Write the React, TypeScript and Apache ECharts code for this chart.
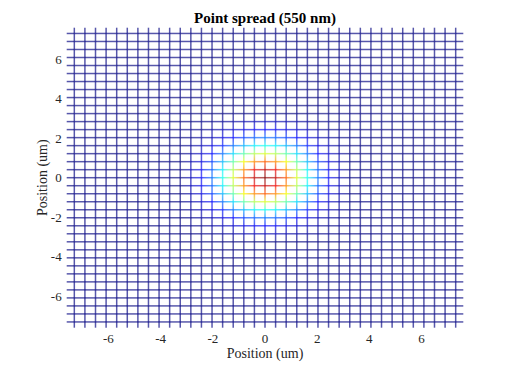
import React, { useEffect, useRef } from 'react';
import * as echarts from 'echarts';

const TITLE = 'Point spread (550 nm)';
const X_NAME = 'Position (um)';
const Y_NAME = 'Position (um)';
const TICK_VALUES = [-6, -4, -2, 0, 2, 4, 6];
const AXIS_MIN = -7.6;
const AXIS_MAX = 7.6;
// mesh sample positions: (k - SAMPLE_HALF) * SAMPLE_STEP
const SAMPLE_STEP = 0.406;
const SAMPLE_HALF = 18;
// normalised PSF values on the central 15x15 samples (row 0 = top)
const CORE_HALF = 7;
const PSF_CORE = [
  [0.00, 0.01, 0.01, 0.02, 0.03, 0.04, 0.05, 0.05, 0.05, 0.04, 0.03, 0.02, 0.01, 0.01, 0.00],
  [0.01, 0.01, 0.03, 0.05, 0.07, 0.09, 0.11, 0.12, 0.11, 0.09, 0.07, 0.05, 0.03, 0.01, 0.01],
  [0.01, 0.03, 0.05, 0.09, 0.13, 0.18, 0.21, 0.23, 0.21, 0.18, 0.13, 0.09, 0.05, 0.03, 0.01],
  [0.02, 0.05, 0.09, 0.15, 0.23, 0.30, 0.36, 0.39, 0.36, 0.30, 0.23, 0.15, 0.09, 0.05, 0.02],
  [0.03, 0.07, 0.13, 0.23, 0.34, 0.46, 0.55, 0.59, 0.55, 0.46, 0.34, 0.23, 0.13, 0.07, 0.03],
  [0.04, 0.09, 0.18, 0.30, 0.46, 0.62, 0.74, 0.79, 0.74, 0.62, 0.46, 0.30, 0.18, 0.09, 0.04],
  [0.05, 0.11, 0.21, 0.36, 0.55, 0.74, 0.89, 0.94, 0.89, 0.74, 0.55, 0.36, 0.21, 0.11, 0.05],
  [0.05, 0.12, 0.23, 0.39, 0.59, 0.79, 0.94, 1.00, 0.94, 0.79, 0.59, 0.39, 0.23, 0.12, 0.05],
  [0.05, 0.11, 0.21, 0.36, 0.55, 0.74, 0.89, 0.94, 0.89, 0.74, 0.55, 0.36, 0.21, 0.11, 0.05],
  [0.04, 0.09, 0.18, 0.30, 0.46, 0.62, 0.74, 0.79, 0.74, 0.62, 0.46, 0.30, 0.18, 0.09, 0.04],
  [0.03, 0.07, 0.13, 0.23, 0.34, 0.46, 0.55, 0.59, 0.55, 0.46, 0.34, 0.23, 0.13, 0.07, 0.03],
  [0.02, 0.05, 0.09, 0.15, 0.23, 0.30, 0.36, 0.39, 0.36, 0.30, 0.23, 0.15, 0.09, 0.05, 0.02],
  [0.01, 0.03, 0.05, 0.09, 0.13, 0.18, 0.21, 0.23, 0.21, 0.18, 0.13, 0.09, 0.05, 0.03, 0.01],
  [0.01, 0.01, 0.03, 0.05, 0.07, 0.09, 0.11, 0.12, 0.11, 0.09, 0.07, 0.05, 0.03, 0.01, 0.01],
  [0.00, 0.01, 0.01, 0.02, 0.03, 0.04, 0.05, 0.05, 0.05, 0.04, 0.03, 0.02, 0.01, 0.01, 0.00],
];

const LINE_ALPHA = 0.66;
const FONT = '"Liberation Serif", "DejaVu Serif", serif';

function clamp(v: number) {
  return Math.max(0, Math.min(1, v));
}
function jet(v: number): string {
  const t = clamp(v);
  const r = clamp(Math.min(4 * t - 1.5, -4 * t + 4.5));
  const g = clamp(Math.min(4 * t - 0.5, -4 * t + 3.5));
  const b = clamp(Math.min(4 * t + 0.5, -4 * t + 2.5));
  return `rgba(${Math.round(r * 255)},${Math.round(g * 255)},${Math.round(b * 255)},${LINE_ALPHA})`;
}

function buildSegments() {
  const n = 2 * SAMPLE_HALF + 1;
  const pos = Array.from({ length: n }, (_, k) => (k - SAMPLE_HALF) * SAMPLE_STEP);
  const val = (ix: number, iy: number) => {
    const cx = ix - SAMPLE_HALF + CORE_HALF;
    const cy = CORE_HALF - (iy - SAMPLE_HALF);
    if (cx < 0 || cy < 0 || cx >= PSF_CORE[0].length || cy >= PSF_CORE.length) return 0;
    return PSF_CORE[cy][cx];
  };
  const segs: number[][] = [];
  for (let iy = 0; iy < n; iy++) {
    const y = pos[iy];
    segs.push([AXIS_MIN, y, pos[0], y, val(0, iy), val(0, iy)]);
    for (let ix = 0; ix < n - 1; ix++) {
      segs.push([pos[ix], y, pos[ix + 1], y, val(ix, iy), val(ix + 1, iy)]);
    }
    segs.push([pos[n - 1], y, AXIS_MAX, y, val(n - 1, iy), val(n - 1, iy)]);
  }
  for (let ix = 0; ix < n; ix++) {
    const x = pos[ix];
    segs.push([x, AXIS_MIN, x, pos[0], val(ix, 0), val(ix, 0)]);
    for (let iy = 0; iy < n - 1; iy++) {
      segs.push([x, pos[iy], x, pos[iy + 1], val(ix, iy), val(ix, iy + 1)]);
    }
    segs.push([x, pos[n - 1], x, AXIS_MAX, val(ix, n - 1), val(ix, n - 1)]);
  }
  return segs;
}

export default function App() {
  const ref = useRef<HTMLDivElement>(null);
  useEffect(() => {
    if (!ref.current) return;
    const chart = echarts.init(ref.current, null, { renderer: 'svg' });
    const segs = buildSegments();
    chart.setOption({
      animation: false,
      backgroundColor: '#ffffff',
      graphic: [
        {
          type: 'text',
          x: 265,
          y: 18,
          style: {
            text: TITLE,
            font: `bold 15px ${FONT}`,
            fill: '#000000',
            align: 'center',
            verticalAlign: 'middle',
          },
        },
      ],
      grid: { left: 66.7, right: 48.7, top: 27.7, bottom: 41.3, containLabel: false },
      xAxis: {
        type: 'value',
        min: AXIS_MIN,
        max: AXIS_MAX,
        name: X_NAME,
        nameLocation: 'middle',
        nameGap: 19,
        nameMoveOverlap: false,
        nameTextStyle: { fontFamily: FONT, fontSize: 14, color: '#262626' },
        axisLine: { show: false },
        axisTick: { show: false },
        splitLine: { show: false },
        axisLabel: {
          customValues: TICK_VALUES,
          margin: 4,
          fontFamily: FONT,
          fontSize: 13,
          color: '#262626',
        },
      },
      yAxis: {
        type: 'value',
        min: AXIS_MIN,
        max: AXIS_MAX,
        name: Y_NAME,
        nameLocation: 'middle',
        nameGap: 17,
        nameRotate: 90,
        nameMoveOverlap: false,
        nameTextStyle: { fontFamily: FONT, fontSize: 14, color: '#262626' },
        axisLine: { show: false },
        axisTick: { show: false },
        splitLine: { show: false },
        axisLabel: {
          customValues: TICK_VALUES,
          margin: 5,
          fontFamily: FONT,
          fontSize: 13,
          color: '#262626',
        },
      },
      series: [
        {
          type: 'custom',
          coordinateSystem: 'cartesian2d',
          data: segs,
          encode: { x: [0, 2], y: [1, 3] },
          silent: true,
          renderItem: (params: any, api: any) => {
            const p1 = api.coord([api.value(0), api.value(1)]);
            const p2 = api.coord([api.value(2), api.value(3)]);
            const c1 = jet(api.value(4));
            const c2 = jet(api.value(5));
            const stroke =
              c1 === c2
                ? c1
                : new echarts.graphic.LinearGradient(
                    p1[0],
                    p1[1],
                    p2[0],
                    p2[1],
                    [
                      { offset: 0, color: c1 },
                      { offset: 1, color: c2 },
                    ],
                    true
                  );
            return {
              type: 'line',
              shape: { x1: p1[0], y1: p1[1], x2: p2[0], y2: p2[1] },
              style: { stroke, lineWidth: 1.5, fill: null },
            };
          },
        },
      ],
    });
    return () => chart.dispose();
  }, []);
  return (
    <div
      ref={ref}
      style={{ position: 'fixed', left: 0, top: 0, width: 512, height: 369 }}
    />
  );
}
